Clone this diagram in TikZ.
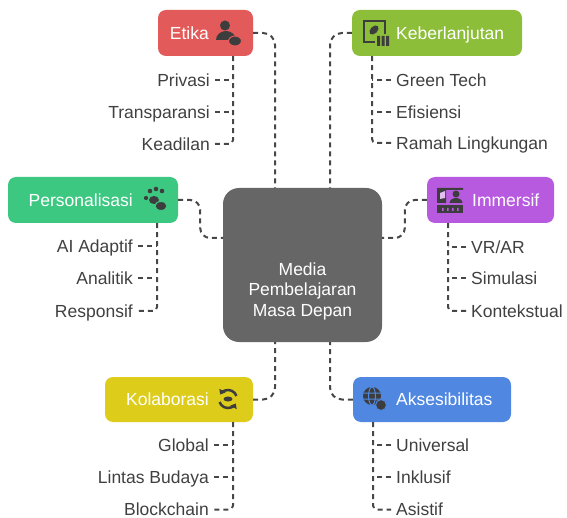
\documentclass[tikz,border=0pt]{standalone}
\usepackage{fontspec}
\setmainfont{Liberation Sans}
\usetikzlibrary{arrows.meta}
\definecolor{cMedia}{HTML}{666666}
\definecolor{cEtika}{HTML}{E35A5A}
\definecolor{cKeb}{HTML}{8DBE3A}
\definecolor{cPers}{HTML}{3DC882}
\definecolor{cImm}{HTML}{B85AE0}
\definecolor{cKol}{HTML}{DECC1A}
\definecolor{cAks}{HTML}{5087E1}
\definecolor{lnk}{HTML}{474747}
\definecolor{txt}{HTML}{404040}
\definecolor{ic}{HTML}{3D3D3D}
\begin{document}
\begin{tikzpicture}[x=1pt,y=-1pt,
    box/.style={rounded corners=8pt, minimum height=46pt, inner sep=0pt},
    lbl/.style={text=white, font=\fontsize{17.5}{20.5}\selectfont, inner sep=0pt, text height=12.5pt, text depth=0pt},
    kidL/.style={anchor=east, text=txt, font=\fontsize{17.5}{20.5}\selectfont, inner xsep=5pt, inner ysep=0pt, text height=12.5pt, text depth=0pt},
    kidR/.style={kidL, anchor=west},
    link/.style={draw=lnk, line width=2pt, dash pattern=on 5pt off 4pt, rounded corners=12pt},
    kid/.style={link, rounded corners=4pt}]
    \useasboundingbox (0,0) rectangle (567,518);
    
    % center
    \node[box, fill=cMedia, rounded corners=16pt, minimum width=159pt, minimum height=154pt] (media) at (302.5,265) {};
    \node[text=white, font=\fontsize{17.5}{20.5}\selectfont, inner sep=0pt, align=center] (mediaLbl) at (302.5,291) {Media\\Pembelajaran\\Masa Depan};
    
    % boxes
    \node[box, fill=cEtika, minimum width=95pt] (etika) at (205.5,33) {};
    \node[lbl, anchor=east] (etikaLbl) at (209,33) {Etika};
    \node[box, fill=cKeb, minimum width=170pt] (keberlanjutan) at (437,33) {};
    \node[lbl, anchor=west] (kebLbl) at (396,33) {Keberlanjutan};
    \node[box, fill=cPers, minimum width=170pt] (personalisasi) at (93,200) {};
    \node[lbl, anchor=east] (persLbl) at (133,200) {Personalisasi};
    \node[box, fill=cImm, minimum width=127pt] (immersif) at (490.5,200) {};
    \node[lbl, anchor=west] (immLbl) at (472,200) {Immersif};
    \node[box, fill=cKol, minimum width=148pt, minimum height=45pt] (kolaborasi) at (179,399.5) {};
    \node[lbl, anchor=east] (kolLbl) at (209,399.5) {Kolaborasi};
    \node[box, fill=cAks, minimum width=158pt, minimum height=45pt] (aksesibilitas) at (432,399.5) {};
    \node[lbl, anchor=west] (aksLbl) at (396,399.5) {Aksesibilitas};
    
    % trunk tops
    \coordinate (etikaT) at ([xshift=27.5pt]etika.south);
    \coordinate (kebT) at ([xshift=-65pt]keberlanjutan.south);
    \coordinate (persT) at ([xshift=64pt]personalisasi.south);
    \coordinate (immT) at ([xshift=-42.5pt]immersif.south);
    \coordinate (kolT) at ([xshift=54pt]kolaborasi.south);
    \coordinate (aksT) at ([xshift=-59pt]aksesibilitas.south);
    
    % children
    \node[kidL] (privasi) at (215,80) {Privasi};
    \node[kidL] (transparansi) at (215,112) {Transparansi};
    \node[kidL] (keadilan) at (215,144) {Keadilan};
    \node[kidR] (greentech) at (391,80) {Green Tech};
    \node[kidR] (efisiensi) at (391,112) {Efisiensi};
    \node[kidR] (ramah) at (391,143) {Ramah Lingkungan};
    \node[kidL] (aiadaptif) at (138,246) {AI Adaptif};
    \node[kidL] (analitik) at (138,278) {Analitik};
    \node[kidL] (responsif) at (138,311) {Responsif};
    \node[kidR] (vrar) at (466,247) {VR/AR};
    \node[kidR] (simulasi) at (466,278) {Simulasi};
    \node[kidR] (kontekstual) at (466,311) {Kontekstual};
    \node[kidL] (global) at (214,445) {Global};
    \node[kidL] (lintas) at (214,477) {Lintas Budaya};
    \node[kidL] (blockchain) at (214,509.5) {Blockchain};
    \node[kidR] (universal) at (391,445) {Universal};
    \node[kidR] (inklusif) at (391,477) {Inklusif};
    \node[kidR] (asistif) at (391,509.5) {Asistif};
    
    % links to the center
    \draw[link] (etika.east) -| ([xshift=-27.5pt]media.north);
    \draw[link] (keberlanjutan.west) -| ([xshift=27.5pt]media.north);
    \draw[link, rounded corners=10pt] (personalisasi.east) -- ++(22,0) |- ([yshift=27pt]media.west);
    \draw[link, rounded corners=10pt] (immersif.west) -- ++(-22,0) |- ([yshift=27pt]media.east);
    \draw[link] (kolaborasi.east) -| ([xshift=-27.5pt]media.south);
    \draw[link] (aksesibilitas.west) -| ([xshift=27.5pt]media.south);
    
    % links to the children
    \draw[kid] (etikaT) |- (keadilan.east);
    \foreach \k in {privasi,transparansi} \draw[kid] (\k.east) -- (\k.east -| etikaT);
    \draw[kid] (kebT) |- (ramah.west);
    \foreach \k in {greentech,efisiensi} \draw[kid] (\k.west) -- (\k.west -| kebT);
    \draw[kid] (persT) |- (responsif.east);
    \foreach \k in {aiadaptif,analitik} \draw[kid] (\k.east) -- (\k.east -| persT);
    \draw[kid] (immT) |- (kontekstual.west);
    \foreach \k in {vrar,simulasi} \draw[kid] (\k.west) -- (\k.west -| immT);
    \draw[kid] (kolT) |- (blockchain.east);
    \foreach \k in {global,lintas} \draw[kid] (\k.east) -- (\k.east -| kolT);
    \draw[kid] (aksT) |- (asistif.west);
    \foreach \k in {universal,inklusif} \draw[kid] (\k.west) -- (\k.west -| aksT);
    
    % icons
    \fill[ic] (225,25.5) circle (5pt);
    \begin{scope}
        \clip (214,31) rectangle (238,40);
        \fill[ic] (226,40) ellipse [x radius=10pt, y radius=9pt];
    \end{scope}
    \fill[ic, draw=cEtika, line width=1pt] (235,41) ellipse [x radius=6.5pt, y radius=5pt];
    
    \draw[ic, line width=2.2pt] (364,21) rectangle (385,42);
    \fill[ic, rotate around={45:(374,30)}] (374,30) ellipse [x radius=5.5pt, y radius=3.5pt];
    \fill[cKeb] (375,34) rectangle (391,48);
    \fill[ic] (377,36) rectangle (380,46) (381.5,36) rectangle (384.5,46) (386,36) rectangle (389,46);
    
    \fill[ic] (150,191) circle (2.3pt) (156,189) circle (2.3pt) (162,191) circle (2.3pt) (146,198) circle (2.1pt);
    \fill[ic] (154,200) ellipse [x radius=5pt, y radius=4pt];
    \fill[ic, draw=cPers, line width=1pt] (161,206) ellipse [x radius=6pt, y radius=4.5pt];
    
    \fill[ic] (437,188) rectangle (463,190) (437,188) rectangle (446,203);
    \fill[cImm!40] (440,193) -- (445,191) -- (445,198) -- (440,199) -- cycle;
    \fill[ic] (456,194) circle (3.5pt);
    \begin{scope}
        \clip (448,198) rectangle (464,203);
        \fill[ic] (456,203) ellipse [x radius=6.5pt, y radius=5pt];
    \end{scope}
    \fill[ic] (437,205) rectangle (463,213);
    \fill[cImm] (442,208) rectangle (443.5,211) (447,208) rectangle (448.5,211) (452,208) rectangle (453.5,211) (457,208) rectangle (458.5,211);
    
    \draw[ic, line width=2.5pt, -{Triangle[length=4.5pt,width=7pt]}] ([shift={(20:9pt)}]228,399) arc[start angle=20, end angle=150, radius=9pt];
    \draw[ic, line width=2.5pt, -{Triangle[length=4.5pt,width=7pt]}] ([shift={(200:9pt)}]228,399) arc[start angle=200, end angle=330, radius=9pt];
    \fill[ic] (228,399) ellipse [x radius=4.5pt, y radius=2.5pt];
    
    \fill[ic] (372,396) circle (9pt);
    \draw[cAks, line width=1pt] (372,396) ellipse [x radius=3.5pt, y radius=9pt] (363.5,393) -- (380.5,393) (363.5,399) -- (380.5,399);
    \fill[ic, draw=cAks, line width=1pt] (381,405) circle (5.5pt);
\end{tikzpicture}
\end{document}
